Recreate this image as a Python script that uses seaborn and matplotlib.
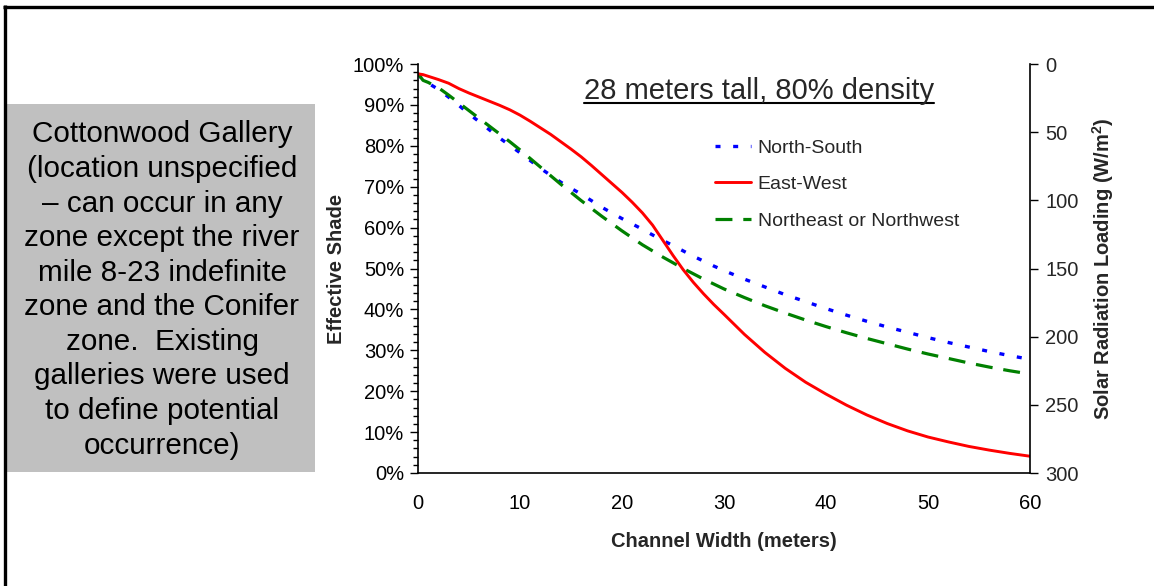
import matplotlib
matplotlib.use("Agg")
import matplotlib.pyplot as plt
from matplotlib.ticker import MultipleLocator, FuncFormatter
from matplotlib.patches import Rectangle
from matplotlib.lines import Line2D
import pandas as pd
import seaborn as sns

# Effective shade (%) versus channel width (m) for each stream orientation
channel_width = [0, 0.5, 1, 2, 3, 4, 5, 6, 7, 8, 9, 10, 11, 12, 13, 14, 15, 16, 17,
                 18, 19, 20, 21, 22, 23, 24, 25, 26, 27, 28, 29, 30,
                 32, 34, 36, 38, 40, 42, 44, 46, 48, 50, 52, 54, 56, 58, 60]
north_south = [97.6, 96.0, 95.3, 93.8, 91.9, 89.9, 87.8, 85.9, 83.9, 81.9, 80.1, 78.3,
               76.4, 74.5, 72.8, 71.1, 69.6, 68.2, 66.6, 65.0, 63.6, 62.2, 60.9, 59.6,
               58.2, 56.9, 55.6, 54.3, 53.0, 51.8, 50.6, 49.5,
               47.4, 45.5, 43.6, 41.9, 40.2, 38.6, 37.1, 35.7, 34.4, 33.1, 31.9, 30.8,
               29.7, 28.7, 27.8]
east_west = [97.6, 97.4, 97.0, 96.2, 95.3, 94.0, 92.9, 91.9, 90.9, 89.9, 88.8, 87.5,
             86.0, 84.4, 82.8, 81.0, 79.2, 77.3, 75.2, 73.0, 70.8, 68.6, 66.2, 63.6,
             60.6, 56.9, 53.2, 49.7, 46.6, 43.8, 41.2, 38.8,
             33.9, 29.5, 25.6, 22.2, 19.3, 16.6, 14.2, 12.1, 10.3, 8.8, 7.6, 6.5,
             5.6, 4.8, 4.1]
ne_nw = [97.6, 96.0, 95.5, 94.2, 92.4, 90.5, 88.6, 86.7, 84.8, 82.9, 81.0, 79.0,
         76.9, 74.8, 72.7, 70.6, 68.6, 66.6, 64.7, 62.8, 61.0, 59.2, 57.5, 55.8,
         54.3, 52.8, 51.4, 50.0, 48.7, 47.4, 46.2, 45.0,
         42.9, 40.9, 39.1, 37.4, 35.8, 34.3, 32.9, 31.6, 30.3, 29.1, 28.0, 26.9,
         25.9, 25.0, 24.2]

series_names = ["North-South", "East-West", "Northeast or Northwest"]
title_text = "28 meters tall, 80% density"
note_text = ("Cottonwood Gallery\n(location unspecified\n\u2013 can occur in any\n"
             "zone except the river\nmile 8-23 indefinite\nzone and the Conifer\n"
             "zone.  Existing\ngalleries were used\nto define potential\noccurrence)")

sns.set_style("white")
plt.rcParams["font.family"] = ["Liberation Sans", "DejaVu Sans"]
plt.rcParams["mathtext.fontset"] = "custom"
plt.rcParams["mathtext.rm"] = "Liberation Sans"
plt.rcParams["mathtext.bf"] = "Liberation Sans:bold"

W, H = 1154, 586
fig = plt.figure(figsize=(W / 100, H / 100), dpi=100)
fig.patch.set_facecolor("white")

left, right, top, bottom = 418, 1030, 64, 473
ax = fig.add_axes([left / W, 1 - bottom / H, (right - left) / W, (bottom - top) / H])
ax.set_facecolor("white")

df = pd.DataFrame({"width": channel_width, "ns": north_south,
                   "ew": east_west, "ne": ne_nw})

sns.lineplot(data=df, x="width", y="ns", ax=ax, color="#0000ff", lw=2.4,
             ls=(0, (1.5, 3.8)), label=series_names[0])
sns.lineplot(data=df, x="width", y="ne", ax=ax, color="#008000", lw=2.3,
             ls=(0, (5.3, 3.4)), label=series_names[2])
sns.lineplot(data=df, x="width", y="ew", ax=ax, color="#ff0000", lw=2.1,
             ls="-", label=series_names[1])

ax.set_xlim(0, 60)
ax.set_ylim(0, 100)
ax.xaxis.set_major_locator(MultipleLocator(10))
ax.xaxis.set_minor_locator(MultipleLocator(1))
ax.yaxis.set_major_locator(MultipleLocator(10))
ax.yaxis.set_minor_locator(MultipleLocator(2))
ax.yaxis.set_major_formatter(FuncFormatter(lambda v, p: f"{v:.0f}%"))
ax.tick_params(axis="both", which="major", direction="out", length=6, width=1,
               color="black", labelsize=14.5, labelcolor="black")
ax.tick_params(axis="both", which="minor", direction="out", length=3.5, width=1,
               color="black")
ax.tick_params(axis="x", which="major", pad=9)
ax.tick_params(axis="y", which="major", pad=4)
for side in ["left", "bottom"]:
    ax.spines[side].set_color("black")
    ax.spines[side].set_linewidth(1.2)
ax.spines["top"].set_visible(False)
ax.spines["right"].set_visible(False)
ax.grid(False)

ax.set_xlabel("Channel Width (meters)", fontsize=14.5, fontweight="bold", labelpad=14)
ax.set_ylabel("Effective Shade", fontsize=14.5, fontweight="bold", labelpad=5)

# Secondary axis: solar radiation loading, inverted
ax2 = ax.twinx()
ax2.set_ylim(300, 0)
ax2.yaxis.set_major_locator(MultipleLocator(50))
ax2.tick_params(axis="y", which="major", direction="out", length=6, width=1,
                color="black", labelsize=14.5, pad=5)
for side in ["left", "top", "bottom"]:
    ax2.spines[side].set_visible(False)
ax2.spines["right"].set_color("black")
ax2.spines["right"].set_linewidth(1.2)
ax2.grid(False)
ax2.set_ylabel(r"Solar Radiation Loading (W/m$\mathbf{^2}$)", fontsize=14.5,
               fontweight="bold", labelpad=8)

# Legend, in the order the series are listed
handles, labels = ax.get_legend_handles_labels()
order = [labels.index(n) for n in series_names]
leg = ax.legend([handles[i] for i in order], [labels[i] for i in order],
                loc="upper left", bbox_to_anchor=((715 - left) / (right - left),
                                                  (bottom - 139) / (bottom - top)),
                frameon=False, fontsize=14, handlelength=1.85, handletextpad=0.35,
                labelspacing=0.98, borderpad=0, borderaxespad=0)

# Title with underline
t = fig.text(759 / W, 1 - 91 / H, title_text, fontsize=21, ha="center", va="center")
fig.canvas.draw()
bb = t.get_window_extent(renderer=fig.canvas.get_renderer())
uy = 1 - 103 / H
fig.add_artist(Line2D([bb.x0 / W, bb.x1 / W], [uy, uy], color="black", lw=1.5,
                      transform=fig.transFigure))

# Grey note box on the left
fig.add_artist(Rectangle((7 / W, 1 - 472 / H), (315 - 7) / W, (472 - 104) / H,
                         transform=fig.transFigure, facecolor="#c0c0c0",
                         edgecolor="none", zorder=0))
fig.text(162 / W, 1 - 290 / H, note_text, fontsize=21.3, ha="center", va="center",
         linespacing=1.3, color="black")

# Outer frame (top and left edges)
fig.add_artist(Line2D([3 / W, 1], [1 - 6.5 / H, 1 - 6.5 / H], color="black", lw=2.4,
                      transform=fig.transFigure, solid_capstyle="butt"))
fig.add_artist(Line2D([4.5 / W, 4.5 / W], [0, 1 - 5 / H], color="black", lw=2.4,
                      transform=fig.transFigure, solid_capstyle="butt"))

fig.savefig("out.png", dpi=100, facecolor="white")
